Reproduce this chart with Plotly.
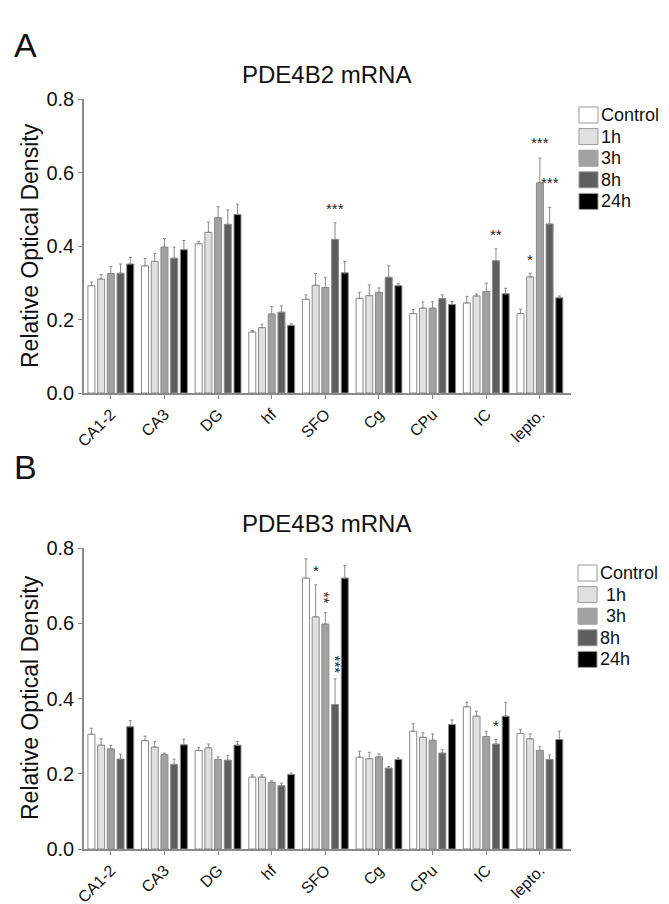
import plotly.graph_objects as go
from plotly.subplots import make_subplots

regions = ["CA1-2", "CA3", "DG", "hf", "SFO", "Cg", "CPu", "IC", "lepto."]
groups = ["Control", "1h", "3h", "8h", "24h"]
colors = ["#ffffff", "#e0e0e0", "#a2a2a2", "#5e5e5e", "#000000"]

# PDE4B2 mRNA, one row per time group
b2_mean = [
    [0.292, 0.346, 0.406, 0.166, 0.255, 0.258, 0.216, 0.245, 0.216],
    [0.310, 0.358, 0.437, 0.178, 0.293, 0.265, 0.231, 0.264, 0.316],
    [0.325, 0.397, 0.477, 0.215, 0.287, 0.274, 0.231, 0.276, 0.572],
    [0.326, 0.367, 0.459, 0.220, 0.418, 0.315, 0.257, 0.360, 0.460],
    [0.351, 0.390, 0.486, 0.184, 0.327, 0.292, 0.241, 0.270, 0.259],
]
b2_err = [
    [0.010, 0.020, 0.006, 0.004, 0.012, 0.016, 0.011, 0.018, 0.012],
    [0.012, 0.022, 0.028, 0.009, 0.032, 0.029, 0.017, 0.005, 0.010],
    [0.019, 0.023, 0.030, 0.020, 0.028, 0.012, 0.017, 0.023, 0.067],
    [0.025, 0.030, 0.039, 0.017, 0.045, 0.031, 0.010, 0.032, 0.045],
    [0.018, 0.025, 0.028, 0.004, 0.031, 0.005, 0.008, 0.015, 0.005],
]

# PDE4B3 mRNA
b3_mean = [
    [0.305, 0.288, 0.262, 0.191, 0.720, 0.244, 0.313, 0.378, 0.307],
    [0.276, 0.271, 0.269, 0.191, 0.617, 0.240, 0.297, 0.353, 0.293],
    [0.266, 0.251, 0.238, 0.177, 0.598, 0.245, 0.289, 0.299, 0.262],
    [0.239, 0.225, 0.236, 0.168, 0.384, 0.215, 0.255, 0.279, 0.238],
    [0.325, 0.277, 0.276, 0.198, 0.720, 0.238, 0.331, 0.353, 0.291],
]
b3_err = [
    [0.016, 0.012, 0.008, 0.006, 0.051, 0.016, 0.020, 0.012, 0.011],
    [0.017, 0.014, 0.010, 0.006, 0.085, 0.017, 0.012, 0.013, 0.013],
    [0.009, 0.004, 0.007, 0.004, 0.030, 0.008, 0.017, 0.014, 0.011],
    [0.013, 0.014, 0.012, 0.007, 0.068, 0.004, 0.009, 0.012, 0.012],
    [0.016, 0.015, 0.010, 0.004, 0.033, 0.004, 0.012, 0.037, 0.022],
]

# significance marks: (row, region, group index, text, y, angle)
stars = [
    (1, "SFO", 3, "***", 0.514, 0),
    (1, "IC", 3, "**", 0.442, 0),
    (1, "lepto.", 1, "*", 0.374, 0),
    (1, "lepto.", 2, "***", 0.693, 0),
    (1, "lepto.", 3, "***", 0.584, 0),
    (2, "SFO", 1, "*", 0.750, 0),
    (2, "SFO", 2, "**", 0.667, 90),
    (2, "SFO", 3, "***", 0.490, 90),
    (2, "IC", 3, "*", 0.340, 0),
]

FONT = "Liberation Sans, Arial, sans-serif"
OFF = 8  # page body margin
W, H = 661, 896
L, R, T, B = 76, 98, 91, 55
PW, PH = W - L - R, H - T - B
BAR_PX = 9.7  # pixel pitch of one bar inside a group


def px_x(px):
    return (px - OFF - L) / PW


def px_y(py):
    return (H - B - (py - OFF)) / PH


fig = make_subplots(rows=2, cols=1, vertical_spacing=0.0)

for row, means, errs in [(1, b2_mean, b2_err), (2, b3_mean, b3_err)]:
    for g, name in enumerate(groups):
        fig.add_trace(go.Bar(
            x=regions, y=means[g], name=name, showlegend=False,
            marker=dict(color=colors[g], line=dict(color="#8a8a8a", width=1)),
            error_y=dict(type="data", symmetric=False, array=errs[g],
                         arrayminus=[0] * len(regions),
                         color="#8a8a8a", thickness=1, width=1.5),
        ), row=row, col=1)

fig.update_layout(
    width=W, height=H,
    margin=dict(l=L, r=R, t=T, b=B, autoexpand=False),
    paper_bgcolor="white", plot_bgcolor="white",
    barmode="group", bargap=0.095, bargroupgap=0.28,
    font=dict(family=FONT, color="#111", size=20),
)

ydom = {1: [px_y(393), 1.0], 2: [0.0, px_y(548)]}
for row in (1, 2):
    fig.update_xaxes(
        row=row, col=1, range=[-0.5, 8.58], showgrid=False, automargin=False,
        showline=True, linecolor="#8a8a8a", linewidth=1.5,
        ticks="outside", ticklen=4, tickcolor="#8a8a8a",
        tickangle=-45, tickfont=dict(size=16), ticklabelstandoff=0,
    )
    fig.update_yaxes(
        row=row, col=1, range=[0, 0.8], domain=ydom[row], showgrid=False,
        automargin=False, zeroline=False, showline=True,
        linecolor="#8a8a8a", linewidth=1.5,
        ticks="outside", ticklen=4, tickcolor="#8a8a8a",
        tickvals=[0, 0.2, 0.4, 0.6, 0.8], ticktext=["0.0", "0.2", "0.4", "0.6", "0.8"],
        tickfont=dict(size=20),
    )


def paper_text(x, y, text, size, **kw):
    d = dict(x=px_x(x), y=px_y(y), xref="paper", yref="paper", text=text,
             showarrow=False, xanchor="center", yanchor="middle",
             font=dict(size=size))
    d.update(kw)
    return d


ann = []
# panel letters, titles, axis titles
for letter, ly, title, ty, cy in [("A", 45, "PDE4B2 mRNA", 75, 246),
                                  ("B", 467, "PDE4B3 mRNA", 523, 698)]:
    ann.append(paper_text(25, ly, letter, 34))
    ann.append(paper_text(326, ty, title, 24))
    ann.append(paper_text(30, cy, "Relative Optical Density", 23, textangle=-90))

# significance stars
for row, reg, g, txt, yv, ang in stars:
    ann.append(dict(x=reg, y=yv, xref="x" if row == 1 else "x2",
                    yref="y" if row == 1 else "y2", text=txt, showarrow=False,
                    xanchor="center", yanchor="middle",
                    xshift=(g - 2) * BAR_PX, yshift=-4 if ang == 0 else 0,
                    textangle=ang, font=dict(size=15, color="#222222")))

# hand drawn legends beside each panel (panel B indents 1h and 3h)
shapes = []
for x0, y_first, indent in [(579, 115, [0, 0, 0, 0, 0]), (578, 573, [0, 6, 6, 0, 0])]:
    for g, lab in enumerate(groups):
        cy = y_first + g * 21.6
        shapes.append(dict(type="rect", xref="paper", yref="paper",
                           x0=px_x(x0), x1=px_x(x0 + 19),
                           y0=px_y(cy + 8), y1=px_y(cy - 8),
                           fillcolor=colors[g], line=dict(color="#9a9a9a", width=1)))
        ann.append(paper_text(x0 + 20 + indent[g], cy, lab, 18, xanchor="left"))

fig.update_layout(annotations=ann, shapes=shapes)
fig.write_html("out.html")
